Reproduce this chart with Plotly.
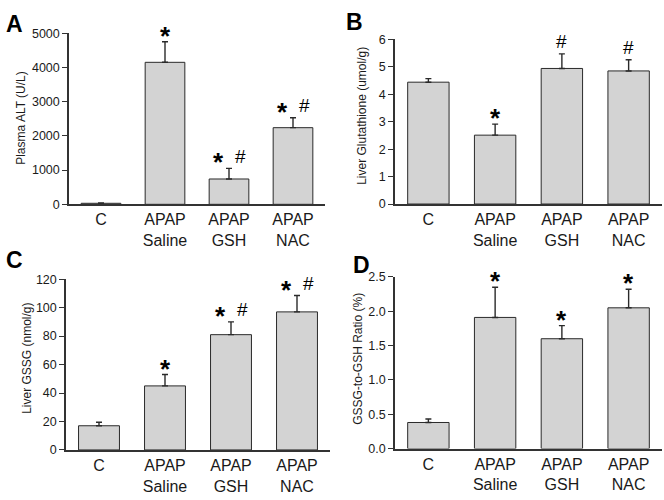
import plotly.graph_objects as go

categories = ["C", "APAP<br>Saline", "APAP<br>GSH", "APAP<br>NAC"]

alt_values = [30, 4150, 740, 2240]
alt_errors = [10, 600, 310, 290]
alt_marks = ["", "*", "*#", "*#"]

gsh_values = [4.44, 2.51, 4.94, 4.85]
gsh_errors = [0.13, 0.40, 0.53, 0.41]
gsh_marks = ["", "*", "#", "#"]

gssg_values = [17, 45, 81, 97]
gssg_errors = [2.5, 8, 9, 11.5]
gssg_marks = ["", "*", "*#", "*#"]

ratio_values = [0.38, 1.91, 1.60, 2.05]
ratio_errors = [0.05, 0.44, 0.19, 0.27]
ratio_marks = ["", "*", "*", "*"]

y_titles = ["Plasma ALT (U/L)", "Liver Glutathione (umol/g)",
            "Liver GSSG (nmol/g)", "GSSG-to-GSH Ratio (%)"]
panel_letters = ["A", "B", "C", "D"]
y_ranges = [[0, 5000], [0, 6], [0, 120], [0, 2.5]]
y_dtick = [1000, 1, 20, 0.5]
y_fmt = ["d", "d", "d", ".1f"]

W, H = 664, 500
# panel boxes in px: (left, right, top, bottom)
boxes = [(69, 325, 27, 203), (395, 662, 33.3, 202.7),
         (66, 330, 280, 455.7), (395, 662, 277.7, 454.3)]
ytitle_pos = [(21, 114), (362, 112), (27, 362), (358, 362)]
letter_pos = [(4, 2), (344, 0), (4, 245), (351, 250)]

FONT = "Arial, Liberation Sans, sans-serif"
fig = go.Figure()
datasets = [(alt_values, alt_errors, alt_marks), (gsh_values, gsh_errors, gsh_marks),
            (gssg_values, gssg_errors, gssg_marks), (ratio_values, ratio_errors, ratio_marks)]

annotations = []
for i, ((vals, errs, marks), box) in enumerate(zip(datasets, boxes)):
    sfx = "" if i == 0 else str(i + 1)
    xa, ya = "x" + sfx, "y" + sfx
    fig.add_trace(go.Bar(
        x=categories, y=vals, xaxis=xa, yaxis=ya, width=0.62,
        marker=dict(color="#d3d3d3", line=dict(color="#2a2a2a", width=1)),
        error_y=dict(type="data", symmetric=False, array=errs,
                     arrayminus=[0] * len(errs), color="#2a2a2a",
                     thickness=1.4, width=3),
        showlegend=False, hoverinfo="skip"))
    l, r, t, b = box
    fig.layout["xaxis" + sfx] = dict(
        domain=[l / W, r / W], anchor=ya, range=[-0.5, 3.5],
        showline=True, linecolor="#333333", linewidth=1.5, ticks="",
        showgrid=False, zeroline=False,
        tickfont=dict(family=FONT, size=16, color="#1a1a1a"))
    fig.layout["yaxis" + sfx] = dict(
        domain=[1 - b / H, 1 - t / H], anchor=xa, range=y_ranges[i],
        dtick=y_dtick[i], tick0=0, tickformat=y_fmt[i],
        showline=True, linecolor="#333333", linewidth=1.5,
        ticks="outside", ticklen=5, tickwidth=1.2, tickcolor="#333333",
        showgrid=False, zeroline=False,
        tickfont=dict(family=FONT, size=12.5, color="#1a1a1a"))
    # y title
    tx, ty = ytitle_pos[i]
    annotations.append(dict(text=y_titles[i], xref="paper", yref="paper",
                            x=tx / W, y=1 - ty / H,
                            textangle=-90, showarrow=False,
                            xanchor="center", yanchor="middle",
                            font=dict(family=FONT, size=12, color="#1a1a1a")))
    # panel letter
    lx, ly = letter_pos[i]
    annotations.append(dict(text="<b>" + panel_letters[i] + "</b>", xref="paper", yref="paper",
                            x=lx / W, y=1 - ly / H, showarrow=False,
                            xanchor="left", yanchor="top",
                            font=dict(family=FONT, size=23, color="#000000")))
    # significance marks
    for j, m in enumerate(marks):
        if not m:
            continue
        top = vals[j] + errs[j]
        offsets = [0] if len(m) == 1 else [-11, 11]
        for ch, dx in zip(m, offsets):
            if ch == "*":
                annotations.append(dict(text="<b>*</b>", xref=xa, yref=ya, x=j, y=top,
                                        xshift=dx, yshift=6, showarrow=False,
                                        xanchor="center", yanchor="middle",
                                        font=dict(family=FONT, size=26, color="#000000")))
            else:
                annotations.append(dict(text="#", xref=xa, yref=ya, x=j, y=top,
                                        xshift=dx, yshift=12, showarrow=False,
                                        xanchor="center", yanchor="middle",
                                        font=dict(family=FONT, size=19, color="#000000")))

fig.update_layout(width=W, height=H, margin=dict(l=0, r=0, t=0, b=0),
                  paper_bgcolor="white", plot_bgcolor="white",
                  annotations=annotations, bargap=0.38)
fig.write_html("out.html", config={"displayModeBar": False},
               post_script="document.body.style.margin='0';document.body.style.overflow='hidden';")
